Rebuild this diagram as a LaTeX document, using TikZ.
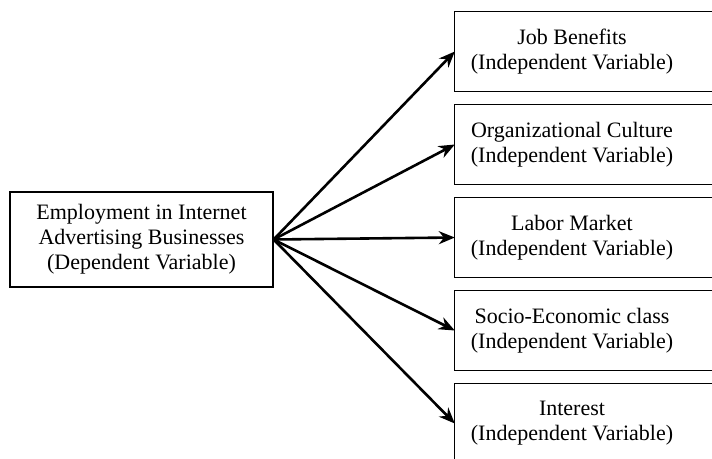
\documentclass[tikz,border=0pt]{standalone}
\usepackage{fontspec}
\setmainfont{Liberation Serif}
\usetikzlibrary{positioning, arrows.meta}

\begin{document}
\begin{tikzpicture}[x=1pt, y=-1pt, font=\fontsize{22}{25}\selectfont,
  depbox/.style={draw, line width=1.2pt, minimum width=263pt, minimum height=95pt, align=center, inner sep=0pt},
  indbox/.style={minimum width=234pt, minimum height=79pt, align=center, inner sep=0pt},
  link/.style={-{Stealth[length=16pt, width=13pt]}, line width=2.6pt}]

\clip (0,0) rectangle (712,458);
\useasboundingbox (0,0) rectangle (712,458);

\begin{scope}
\node[depbox] (dep) at (141.5,239.5) {Employment in Internet\\Advertising Businesses\\(Dependent Variable)};

\node[indbox] (job) at (572,51.5) {Job Benefits\\(Independent Variable)};
\node[indbox] (org) at (572,144.5) {Organizational Culture\\(Independent Variable)};
\node[indbox] (lab) at (572,237.5) {Labor Market\\(Independent Variable)};
\node[indbox] (soc) at (572,330.5) {Socio-Economic class\\(Independent Variable)};
\node[indbox] (int) at (572,423.5) {Interest\\(Independent Variable)};

\foreach \v in {job, org, lab, soc, int} {
  \draw[line width=1.2pt] (\v.north west) rectangle ([xshift=60pt]\v.south east);
  \draw[link] (dep.east) -- (\v.west);
}
\end{scope}

\end{tikzpicture}
\end{document}
